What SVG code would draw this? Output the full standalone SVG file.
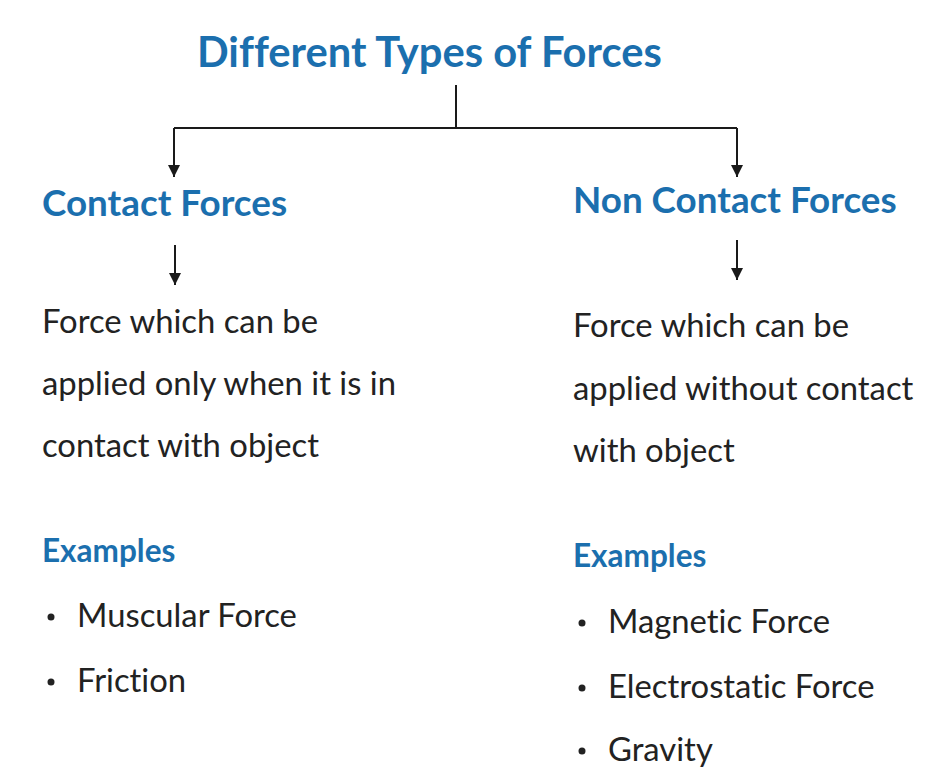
<svg xmlns="http://www.w3.org/2000/svg" width="932" height="767" viewBox="0 0 932 767">
  <style>
    text { font-variant-ligatures: none; }
    .head { font-family: Lato, "Open Sans", sans-serif; font-weight: bold; fill: #1b6fae; }
    .body { font-family: Lato, "Open Sans", sans-serif; fill: #222222; font-size: 32.8px; }
    .ex { font-family: Lato, "Open Sans", sans-serif; font-weight: bold; fill: #1b6fae; font-size: 31.5px; }
    .dot { fill: #222222; }
    .wire { stroke: #1a1a1a; stroke-width: 2; fill: none; }
  </style>
  <defs>
    <marker id="arrow" viewBox="0 0 10 10" refX="10" refY="5" markerWidth="6" markerHeight="6" orient="auto" markerUnits="strokeWidth">
      <path d="M0,0 L10,5 L0,10 z" fill="#1a1a1a"/>
    </marker>
  </defs>
  <rect width="932" height="767" fill="#ffffff"/>

  <g id="title">
    <text class="head" x="197" y="67" font-size="41.7">Different Types of Forces</text>
  </g>

  <g id="connectors">
    <path class="wire" d="M456,85 V128"/>
    <path class="wire" d="M174,128 H737"/>
    <path class="wire" d="M174,128 V177" marker-end="url(#arrow)"/>
    <path class="wire" d="M737,128 V177" marker-end="url(#arrow)"/>
    <path class="wire" d="M175,245 V285" marker-end="url(#arrow)"/>
    <path class="wire" d="M737,240 V280" marker-end="url(#arrow)"/>
  </g>

  <g id="contact">
    <text class="head" x="42" y="216" font-size="36.8">Contact Forces</text>
    <text class="body" x="42" y="333">Force which can be</text>
    <text class="body" x="42" y="395">applied only when it is in</text>
    <text class="body" x="42" y="457">contact with object</text>
  </g>

  <g id="contact-examples">
    <text class="ex" x="42" y="562">Examples</text>
    <circle class="dot" cx="51" cy="617" r="3.5"/>
    <text class="body" x="77" y="627">Muscular Force</text>
    <circle class="dot" cx="51" cy="682" r="3.5"/>
    <text class="body" x="77" y="692">Friction</text>
  </g>

  <g id="non-contact">
    <text class="head" x="573" y="213" font-size="36.8">Non Contact Forces</text>
    <text class="body" x="573" y="337">Force which can be</text>
    <text class="body" x="573" y="400">applied without contact</text>
    <text class="body" x="573" y="462">with object</text>
  </g>

  <g id="non-contact-examples">
    <text class="ex" x="573" y="567">Examples</text>
    <circle class="dot" cx="582" cy="623" r="3.5"/>
    <text class="body" x="608" y="633">Magnetic Force</text>
    <circle class="dot" cx="582" cy="688" r="3.5"/>
    <text class="body" x="608" y="698">Electrostatic Force</text>
    <circle class="dot" cx="582" cy="751" r="3.5"/>
    <text class="body" x="608" y="761">Gravity</text>
  </g>
</svg>
